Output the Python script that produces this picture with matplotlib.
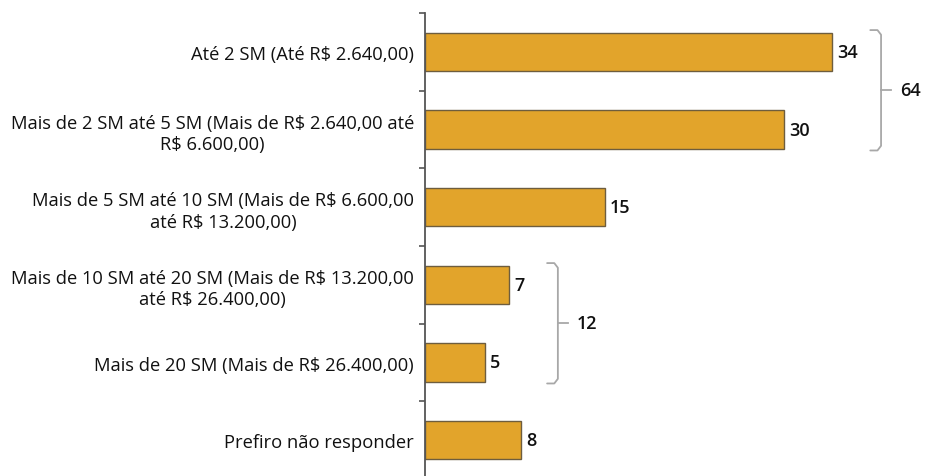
import numpy as np
import matplotlib.pyplot as plt
from matplotlib.ticker import FixedLocator

plt.rcParams['font.family'] = ['Open Sans', 'DejaVu Sans']

# Data
categories = [
    "Até 2 SM (Até R$ 2.640,00)",
    "Mais de 2 SM até 5 SM (Mais de R$ 2.640,00 até\nR$ 6.600,00)",
    "Mais de 5 SM até 10 SM (Mais de R$ 6.600,00\naté R$ 13.200,00)",
    "Mais de 10 SM até 20 SM (Mais de R$ 13.200,00\naté R$ 26.400,00)",
    "Mais de 20 SM (Mais de R$ 26.400,00)",
    "Prefiro não responder",
]
values = [34, 30, 15, 7, 5, 8]

# grouped totals shown with brackets: (first index, last index, label)
groups = [(0, 1, "64"), (3, 4, "12")]

BAR_COLOR = "#E2A42B"
EDGE_COLOR = "#6e5d3e"
BRACKET_COLOR = "#a8a8a8"
TEXT_COLOR = "#111111"

W, H = 926, 477
fig = plt.figure(figsize=(W / 100, H / 100), dpi=100)
ax = fig.add_axes([425 / W, -3 / H, (W - 425) / W, (480 - 14) / H])

y = np.arange(len(categories))
ax.barh(y, values, height=0.49, color=BAR_COLOR, edgecolor=EDGE_COLOR, linewidth=1.0)

ax.set_xlim(0, (W - 425) / 11.97)
ax.set_ylim(len(categories) - 0.5, -0.5)

# value labels
for yi, v in zip(y, values):
    ax.text(v + 0.45, yi, str(v), va="center", ha="left", fontsize=13,
            fontweight="semibold", color=TEXT_COLOR)

# brackets
for i0, i1, lab in groups:
    xb = max(values[i0:i1 + 1]) + 4.1
    top, bot = i0 - 0.28, i1 + 0.27
    mid = (top + bot) / 2
    ax.plot([xb - 0.9, xb - 0.3, xb, xb, xb - 0.3, xb - 0.9],
            [top, top, top + 0.06, bot - 0.06, bot, bot],
            color=BRACKET_COLOR, lw=1.3, solid_capstyle="round", clip_on=False)
    ax.plot([xb, xb + 0.85], [mid, mid], color=BRACKET_COLOR, lw=1.3, clip_on=False)
    ax.text(xb + 1.6, mid, lab, va="center", ha="left", fontsize=13,
            fontweight="semibold", color=TEXT_COLOR)

# axes styling
for s in ["top", "right", "bottom"]:
    ax.spines[s].set_visible(False)
ax.spines["left"].set_color("#555555")
ax.spines["left"].set_linewidth(1.3)
ax.set_xticks([])
ax.set_yticks(y)
ax.set_yticklabels(categories, fontsize=13.2, color=TEXT_COLOR, linespacing=1.25)
for t in ax.get_yticklabels():
    t.set_multialignment("center")
ax.tick_params(axis="y", which="major", length=0, pad=8)
ax.yaxis.set_minor_locator(FixedLocator(np.arange(len(categories) + 1) - 0.5))
ax.tick_params(axis="y", which="minor", length=4, width=1.2, color="#555555")

fig.savefig("out.png", dpi=100, facecolor="white")
